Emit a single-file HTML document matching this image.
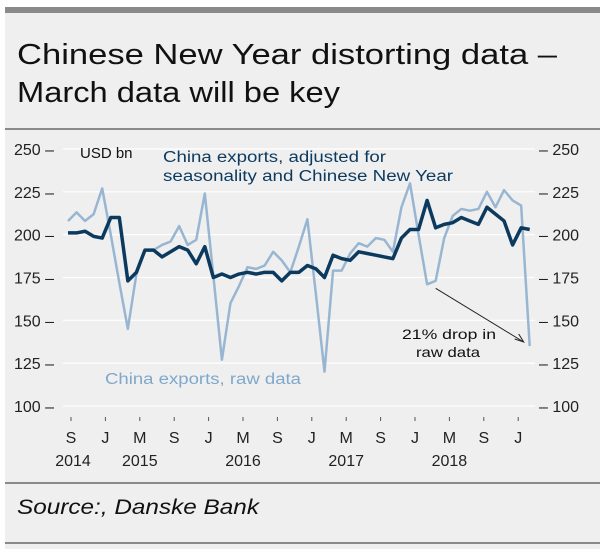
<!DOCTYPE html>
<html><head><meta charset="utf-8"><style>
body{margin:0;background:#fff}
svg{display:block;font-family:"Liberation Sans",sans-serif}
</style></head><body>
<svg width="600" height="549" viewBox="0 0 600 549">
<rect x="5" y="7" width="595" height="542" fill="#efefef"/>
<rect x="5" y="7" width="595" height="6" fill="#8a8a8a"/>
<text x="17" y="64" font-size="29" fill="#111" textLength="540" lengthAdjust="spacingAndGlyphs">Chinese New Year distorting data –</text>
<text x="17" y="102" font-size="29" fill="#111" textLength="323" lengthAdjust="spacingAndGlyphs">March data will be key</text>
<line x1="5" y1="129" x2="600" y2="129" stroke="#8a8a8a" stroke-width="2"/>
<g id="grid"></g>
<g id="axes"></g>
<text x="80" y="158" font-size="15" fill="#111">USD bn</text>
<text x="163" y="162" font-size="15.5" fill="#0c3a5e" textLength="223" lengthAdjust="spacingAndGlyphs">China exports, adjusted for</text>
<text x="163" y="181" font-size="15.5" fill="#0c3a5e" textLength="290" lengthAdjust="spacingAndGlyphs">seasonality and Chinese New Year</text>
<text x="105" y="384" font-size="15.5" fill="#7fa8cc" textLength="196" lengthAdjust="spacingAndGlyphs">China exports, raw data</text>
<text x="402" y="339" font-size="14" fill="#111" textLength="94" lengthAdjust="spacingAndGlyphs">21% drop in</text>
<text x="416" y="357" font-size="14" fill="#111" textLength="64" lengthAdjust="spacingAndGlyphs">raw data</text>
<g id="series"></g>
<line x1="5" y1="483" x2="600" y2="483" stroke="#8a8a8a" stroke-width="2"/>
<text x="17" y="514" font-size="21" font-style="italic" fill="#111" textLength="242" lengthAdjust="spacingAndGlyphs">Source:, Danske Bank</text>
<line x1="5" y1="543" x2="600" y2="543" stroke="#8a8a8a" stroke-width="2"/>
</svg>
<script>
const yTicks=[100,125,150,175,200,225,250];
const xLabels=["S","J","M","S","J","M","S","J","M","S","J","M","S","J"];
const yearLabels=["2014","2015","2016","2017","2018"];
const yearSlots=[0,2,5,8,11];
const adjusted=[201,201,202,199,198,210,210,173,178,191,191,187,190,193,191,183,193,175,177,175,177,178,177,178,178,173,178,178,182,180,175,188,186,185,190,189,188,187,186,198,203,203,220,204,206,207,210,208,206,216,212,208,194,204,203];
const raw=[208,213,208,212,227,200,172,145,177,191,191,194,196,205,194,197,224,176,127,160,170,181,180,182,190,185,178,193,209,165,120,179,179,189,195,193,198,197,190,216,230,200,171,173,198,211,215,214,215,225,216,226,220,217,135];
const NS="http://www.w3.org/2000/svg";
const x=i=>68+8.55*i;
const y=v=>149+(250-v)*1.713;
const xl=k=>71+34.4*k;
function mk(t,a,p){const e=document.createElementNS(NS,t);for(const k in a)e.setAttribute(k,a[k]);document.getElementById(p).appendChild(e);return e;}
yTicks.forEach(v=>{
 const g=mk('line',{x1:63,x2:535,y1:y(v),y2:y(v),stroke:'#fff','stroke-width':1.2},'grid');
 
 
 const l=mk('text',{x:14,y:y(v)+6,'font-size':16,fill:'#222'},'axes');l.textContent=v+' –';
 
 
 const r=mk('text',{x:539,y:y(v)+6,'font-size':16,fill:'#222'},'axes');r.textContent='– '+v;
 
 
});
xLabels.forEach((s,k)=>{
 const xx=xl(k);
 const t=mk('line',{x1:xx,x2:xx,y1:417,y2:421,stroke:'#555'},'axes');
 
 
 const l=mk('text',{x:xx,y:443,'font-size':16,fill:'#222','text-anchor':'middle'},'axes');l.textContent=s;
 
 
});
yearLabels.forEach((s,k)=>{
 const l=mk('text',{x:xl(yearSlots[k])+(k===0?2:0),y:466,'font-size':16,fill:'#222','text-anchor':'middle'},'axes');l.textContent=s;
 
 
});
function line(d,c,w,n){const p=mk('polyline',{points:d.map((v,i)=>x(i)+','+y(v)).join(' '),fill:'none',stroke:c,'stroke-width':w,'stroke-linejoin':'round'},'series');
 
 }
line(raw,'#98b6d2',2.5,'raw-exports-line');
line(adjusted,'#0c3a5e',3.5,'adjusted-exports-line');
const ex=x(54)-6, ey=y(raw[54])-4;
const a=mk('line',{x1:x(43),y1:y(171)+4,x2:ex,y2:ey,stroke:'#222','stroke-width':1},'series');


const h=mk('polyline',{points:`${ex-9},${ey-3} ${ex},${ey} ${ex-5},${ey-8}`,fill:'none',stroke:'#222','stroke-width':1},'series');


</script>
</body></html>
